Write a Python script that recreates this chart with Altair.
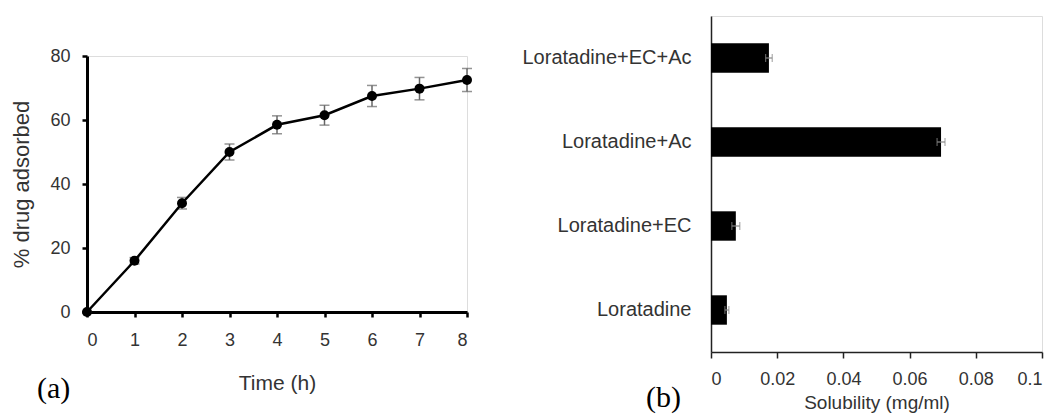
import altair as alt
import pandas as pd

# ---- data (a): drug adsorption over time ----
times = [0, 1, 2, 3, 4, 5, 6, 7, 8]
adsorbed = [0.0, 16.0, 34.0, 50.0, 58.5, 61.5, 67.5, 69.8, 72.5]
adsorbed_err = [0.0, 1.0, 1.8, 2.5, 2.8, 3.1, 3.3, 3.5, 3.6]

# ---- data (b): solubility ----
formulations = ["Loratadine+EC+Ac", "Loratadine+Ac", "Loratadine+EC", "Loratadine"]
solubility = [0.0175, 0.0695, 0.0075, 0.0048]
solubility_err = [0.0010, 0.0012, 0.0012, 0.0006]

dfa = pd.DataFrame({"t": times, "v": adsorbed, "e": adsorbed_err})
dfa["lo"] = dfa["v"] - dfa["e"]
dfa["hi"] = dfa["v"] + dfa["e"]

dfb = pd.DataFrame({"f": formulations, "s": solubility, "e": solubility_err})
dfb["lo"] = dfb["s"] - dfb["e"]
dfb["hi"] = dfb["s"] + dfb["e"]

LABEL = "#333333"
FONT = "Liberation Sans"

xa_scale = alt.Scale(domain=[0, 8], nice=False)
xa_axis = alt.Axis(title="Time (h)", values=times, format="d", grid=False,
                   domainWidth=3, domainColor="black",
                   tickWidth=2.5, tickColor="black", tickSize=5,
                   labelPadding=14, labelFontSize=18, labelColor=LABEL,
                   labelFont=FONT, titleFont=FONT, titleFontSize=21,
                   titleFontWeight="normal", titleColor=LABEL, titlePadding=23)
ya_scale = alt.Scale(domain=[0, 80], nice=False)
ya_axis = alt.Axis(title="% drug adsorbed", values=[0, 20, 40, 60, 80], grid=False,
                   domainWidth=3, domainColor="black",
                   tickWidth=2.5, tickColor="black", tickSize=5,
                   labelPadding=12, labelFontSize=18, labelColor=LABEL,
                   labelFont=FONT, titleFont=FONT, titleFontSize=22,
                   titleFontWeight="normal", titleColor=LABEL, titlePadding=16)

xa = alt.X("t:Q", scale=xa_scale, axis=xa_axis)
base_a = alt.Chart(dfa)
err_rule_a = base_a.mark_rule(color="#666666", strokeWidth=1.5).encode(
    x=xa, y=alt.Y("lo:Q", scale=ya_scale, axis=ya_axis), y2="hi:Q")
cap_lo_a = base_a.mark_tick(color="#666666", thickness=1.5, size=10, orient="horizontal").encode(
    x=xa, y=alt.Y("lo:Q", scale=ya_scale, axis=ya_axis))
cap_hi_a = base_a.mark_tick(color="#666666", thickness=1.5, size=10, orient="horizontal").encode(
    x=xa, y=alt.Y("hi:Q", scale=ya_scale, axis=ya_axis))
line_a = base_a.mark_line(color="black", strokeWidth=2.5).encode(
    x=xa, y=alt.Y("v:Q", scale=ya_scale, axis=ya_axis))
pts_a = base_a.mark_point(filled=True, color="black", size=100, opacity=1).encode(
    x=xa, y=alt.Y("v:Q", scale=ya_scale, axis=ya_axis))

chart_a = alt.layer(err_rule_a, cap_lo_a, cap_hi_a, line_a, pts_a).properties(
    width=380, height=256,
    title=alt.TitleParams(text="(a)", orient="bottom", anchor="start", frame="group",
                          font="Liberation Serif", fontSize=30, fontWeight="normal",
                          color="black", dx=-50, offset=-19),
)

xb = alt.X("s:Q", scale=alt.Scale(domain=[0, 0.1], nice=False),
           axis=alt.Axis(title="Solubility (mg/ml)", values=[0, 0.02, 0.04, 0.06, 0.08, 0.1],
                         format=".2~f", grid=False,
                         domainWidth=1.5, domainColor="#222222",
                         tickWidth=1.5, tickColor="#222222", tickSize=6,
                         labelPadding=12, labelFontSize=18, labelColor=LABEL,
                         labelFont=FONT, titleFont=FONT, titleFontSize=19,
                         titleFontWeight="normal", titleColor=LABEL, titlePadding=5))
yb = alt.Y("f:N", sort=formulations,
           scale=alt.Scale(paddingInner=0.65, paddingOuter=0.325),
           axis=alt.Axis(title=None, ticks=False, tickSize=0, grid=False,
                         domainWidth=1.5, domainColor="#222222",
                         labelPadding=20, labelFontSize=20, labelColor=LABEL,
                         labelFont=FONT, labelLimit=400))

base_b = alt.Chart(dfb)
bars_b = base_b.mark_bar(color="black").encode(x=xb, y=yb)
err_rule_b = base_b.mark_rule(color="#888888", strokeWidth=1.2).encode(x="lo:Q", x2="hi:Q", y=yb)
cap_lo_b = base_b.mark_tick(color="#888888", thickness=1.2, size=8, orient="vertical").encode(x="lo:Q", y=yb)
cap_hi_b = base_b.mark_tick(color="#888888", thickness=1.2, size=8, orient="vertical").encode(x="hi:Q", y=yb)

chart_b = alt.layer(bars_b, err_rule_b, cap_lo_b, cap_hi_b).properties(
    width=331, height=336,
    title=alt.TitleParams(text="(b)", orient="bottom", anchor="start", frame="group",
                          font="Liberation Serif", fontSize=30, fontWeight="normal",
                          color="black", dx=-65, offset=-29),
)

chart = alt.hconcat(chart_a, chart_b, spacing=244, bounds="flush", center=True).properties(
    padding={"left": 2, "top": 7, "right": 0, "bottom": 0}
).configure_view(strokeWidth=0).configure(font=FONT)

chart.save("out.html", embed_options={"renderer": "svg", "actions": False})
